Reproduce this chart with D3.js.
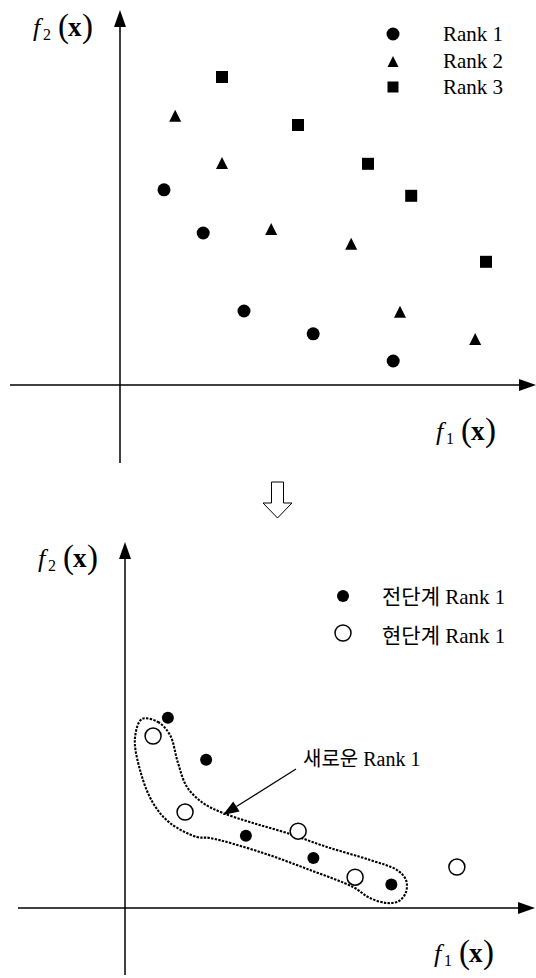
<!DOCTYPE html>
<html>
<head>
<meta charset="utf-8">
<script src="https://cdn.jsdelivr.net/npm/d3@7/dist/d3.min.js"></script>
<style>
  html, body { margin: 0; padding: 0; background: #fff; }
  svg { display: block; }
  text { font-family: "Liberation Serif", "Times New Roman", "Noto Sans CJK KR", serif; fill: #000; }
</style>
</head>
<body>
<svg id="chart" width="536" height="978"></svg>
<script>
// Objective-space points (f1, f2) for each non-dominated rank
const rank1 = [[1.10, 4.88], [2.08, 3.80], [3.10, 1.85], [4.83, 1.28], [6.83, 0.60]];
const rank2 = [[1.38, 6.73], [2.55, 5.55], [3.78, 3.90], [5.78, 3.53], [7.00, 1.83], [8.88, 1.15]];
const rank3 = [[2.55, 7.70], [4.45, 6.50], [6.20, 5.53], [7.28, 4.73], [9.15, 3.08]];

// Previous generation's rank 1 and the current generation's solutions
const prevRank1 = rank1;
const currRank1 = [[0.72, 4.41], [1.54, 2.46], [4.44, 1.97], [5.90, 0.79], [8.51, 1.05]];

// Outline enclosing the new rank-1 front
const newFrontOutline = [
  [0.436, 4.846], [0.846, 4.769], [1.154, 4.436], [1.359, 3.718], [1.590, 3.103],
  [2.000, 2.692], [2.513, 2.436], [3.282, 2.179], [4.154, 1.923], [5.179, 1.564],
  [6.282, 1.231], [6.974, 0.974], [7.205, 0.718], [7.205, 0.410], [7.026, 0.179],
  [6.718, 0.128], [6.282, 0.256], [5.846, 0.538], [4.744, 0.974], [3.462, 1.436],
  [2.179, 1.795], [1.846, 1.821], [1.154, 2.179], [0.718, 2.692], [0.385, 3.538],
  [0.256, 4.359]
];

const legendTop = ["Rank 1", "Rank 2", "Rank 3"];
const legendBottom = ["전단계 Rank 1", "현단계 Rank 1"];
const annotationText = "새로운 Rank 1";
const annotationTip = [2.51, 2.385];
const annotationTail = [4.385, 3.564];

const svg = d3.select("#chart");

// Upper panel scales
const x1 = d3.scaleLinear().domain([0, 10]).range([120, 520]);
const y1 = d3.scaleLinear().domain([0, 9]).range([385, 25]);
// Lower panel scales
const x2 = d3.scaleLinear().domain([0, 10]).range([125, 515]);
const y2 = d3.scaleLinear().domain([0, 9]).range([908, 557]);

function arrowAxes(g, x, y, ext) {
  const ox = x(0), oy = y(0);
  g.append("line").attr("x1", ext.left).attr("x2", ext.right - 16)
    .attr("y1", oy).attr("y2", oy).attr("stroke", "#000").attr("stroke-width", 1.5);
  g.append("line").attr("x1", ox).attr("x2", ox)
    .attr("y1", ext.bottom).attr("y2", ext.top + 16).attr("stroke", "#000").attr("stroke-width", 1.5);
  g.append("path")
    .attr("d", `M${ext.right},${oy} L${ext.right - 17},${oy - 6} L${ext.right - 17},${oy + 6} Z`)
    .attr("fill", "#000");
  g.append("path")
    .attr("d", `M${ox},${ext.top} L${ox - 6},${ext.top + 17} L${ox + 6},${ext.top + 17} Z`)
    .attr("fill", "#000");
}

// f_k(x) label built from separate glyph runs
function fLabel(g, x0, base, sub) {
  const t = g.append("g").attr("transform", `translate(${x0},${base})`);
  t.append("text").attr("x", 0).attr("y", 0).attr("font-size", 26).attr("font-style", "italic").text("f");
  t.append("text").attr("x", 10).attr("y", 4).attr("font-size", 16).text(sub);
  t.append("text").attr("x", 25).attr("y", 1).attr("font-size", 33).text("(");
  t.append("text").attr("x", 35).attr("y", 0).attr("font-size", 27).attr("font-weight", "bold").text("x");
  t.append("text").attr("x", 49).attr("y", 1).attr("font-size", 33).text(")");
}

const triPath = (s) => `M0,${-s / 2} L${s / 2},${s / 2} L${-s / 2},${s / 2} Z`;
const sqPath = (s) => `M${-s / 2},${-s / 2} h${s} v${s} h${-s} Z`;

// ---------- Upper panel ----------
const upper = svg.append("g");
arrowAxes(upper, x1, y1, { left: 10, right: 536, top: 10, bottom: 463 });
fLabel(upper, 33, 36, "2");
fLabel(upper, 436, 440, "1");

upper.selectAll("circle.r1").data(rank1).join("circle")
  .attr("cx", d => x1(d[0])).attr("cy", d => y1(d[1])).attr("r", 6.5).attr("fill", "#000");
upper.selectAll("path.r2").data(rank2).join("path")
  .attr("transform", d => `translate(${x1(d[0])},${y1(d[1])})`).attr("d", triPath(12)).attr("fill", "#000");
upper.selectAll("path.r3").data(rank3).join("path")
  .attr("transform", d => `translate(${x1(d[0])},${y1(d[1])})`).attr("d", sqPath(12)).attr("fill", "#000");

const lgTop = upper.append("g").attr("transform", "translate(393,34)");
lgTop.append("circle").attr("cx", 0).attr("cy", 0).attr("r", 6.5).attr("fill", "#000");
lgTop.append("path").attr("transform", "translate(0,27.5)").attr("d", triPath(11)).attr("fill", "#000");
lgTop.append("path").attr("transform", "translate(0,53)").attr("d", sqPath(11)).attr("fill", "#000");
lgTop.selectAll("text").data(legendTop).join("text")
  .attr("x", 50).attr("y", (d, i) => 7 + i * 26.5).attr("font-size", 21).text(d => d);

// ---------- Transition arrow ----------
const ax = 277.5, ay = 482;
svg.append("path")
  .attr("d", `M${ax - 6},${ay} h12 v21 h8.5 L${ax},${ay + 36} L${ax - 14.5},${ay + 21} h8.5 Z`)
  .attr("fill", "#fff").attr("stroke", "#000").attr("stroke-width", 1);

// ---------- Lower panel ----------
const lower = svg.append("g");
arrowAxes(lower, x2, y2, { left: 18, right: 535, top: 542, bottom: 975 });
fLabel(lower, 38, 567, "2");
fLabel(lower, 434, 962, "1");

lower.append("path")
  .datum(newFrontOutline)
  .attr("d", d3.line().x(d => x2(d[0])).y(d => y2(d[1])).curve(d3.curveCatmullRomClosed.alpha(0.5)))
  .attr("fill", "none").attr("stroke", "#000").attr("stroke-width", 2.1)
  .attr("stroke-dasharray", "2.4,1.3");

lower.selectAll("circle.prev").data(prevRank1).join("circle")
  .attr("cx", d => x2(d[0])).attr("cy", d => y2(d[1])).attr("r", 6).attr("fill", "#000");
lower.selectAll("circle.curr").data(currRank1).join("circle")
  .attr("cx", d => x2(d[0])).attr("cy", d => y2(d[1])).attr("r", 8)
  .attr("fill", "#fff").attr("stroke", "#000").attr("stroke-width", 1.5);

const lgBot = lower.append("g").attr("transform", "translate(343,596)");
lgBot.append("circle").attr("cx", 0).attr("cy", 0).attr("r", 6).attr("fill", "#000");
lgBot.append("circle").attr("cx", 0).attr("cy", 37).attr("r", 8)
  .attr("fill", "#fff").attr("stroke", "#000").attr("stroke-width", 1.5);
lgBot.selectAll("text").data(legendBottom).join("text")
  .attr("x", 39).attr("y", (d, i) => 8 + i * 39).attr("font-size", 21).text(d => d);

// Annotation arrow pointing at the new front
const tx = x2(annotationTail[0]), ty = y2(annotationTail[1]);
const hx = x2(annotationTip[0]), hy = y2(annotationTip[1]);
const ang = Math.atan2(hy - ty, hx - tx);
const hl = 16, hw = 6;
const bx = hx - hl * Math.cos(ang), by = hy - hl * Math.sin(ang);
lower.append("line").attr("x1", tx).attr("y1", ty).attr("x2", bx).attr("y2", by)
  .attr("stroke", "#000").attr("stroke-width", 1.3);
lower.append("path")
  .attr("d", `M${hx},${hy} L${bx + hw * Math.sin(ang)},${by - hw * Math.cos(ang)} L${bx - hw * Math.sin(ang)},${by + hw * Math.cos(ang)} Z`)
  .attr("fill", "#000");
lower.append("text").attr("x", tx + 7).attr("y", ty - 3).attr("font-size", 20).text(annotationText);
</script>
</body>
</html>
